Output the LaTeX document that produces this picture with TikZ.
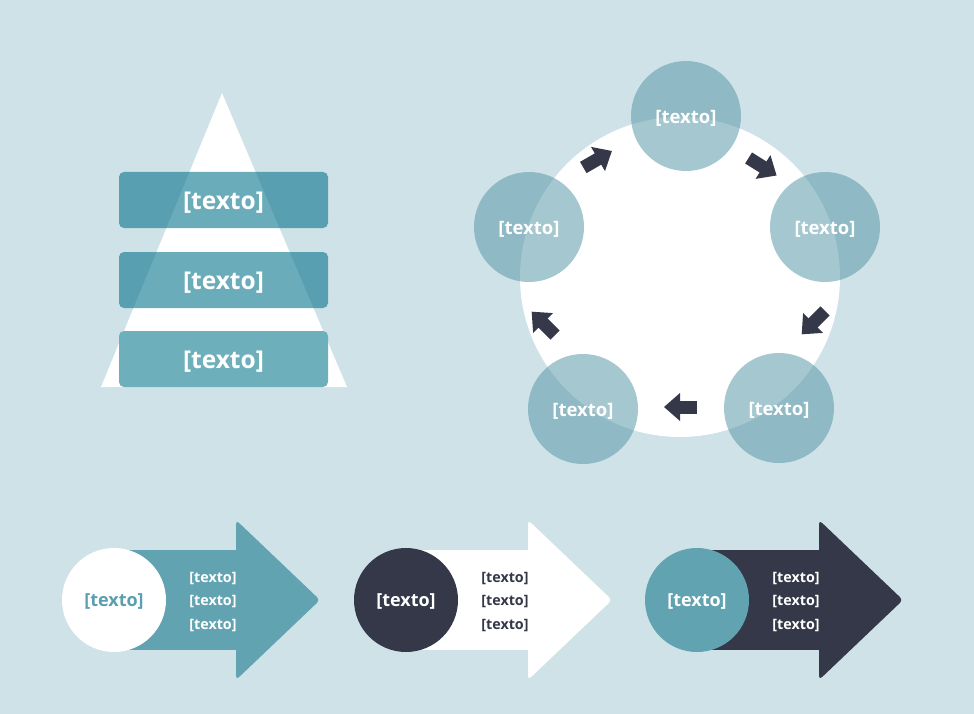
\documentclass[tikz,border=0pt]{standalone}
\usepackage{fontspec}
\setmainfont{Open Sans}
\definecolor{bg}{HTML}{CEE2E7}
\definecolor{dark}{HTML}{343848}
\definecolor{tealA}{HTML}{62A3B1}
\definecolor{tealT}{HTML}{5A9FB0}
\definecolor{boxc}{RGB}{1,112,138}
\definecolor{boxlow}{HTML}{6AADBA}
\definecolor{circc}{RGB}{92,153,169}
\begin{document}
\begin{tikzpicture}[x=1pt,y=-1pt,
  pbox/.style={text height=18.6pt, text depth=0pt, rounded corners=5pt, minimum width=209pt, minimum height=56pt, inner sep=0pt,
    fill=boxc, fill opacity=0.58, text opacity=1, text=white, font=\bfseries\fontsize{24.5}{28}\selectfont},
  cnode/.style={text height=14.6pt, text depth=0pt, circle, minimum size=110pt, inner sep=0pt, fill=circc, fill opacity=0.55, text opacity=1,
    text=white, font=\bfseries\fontsize{18.5}{22}\selectfont},
  bcirc/.style={text height=12.4pt, text depth=0pt, circle, minimum size=104pt, inner sep=0pt, font=\bfseries\fontsize{18}{21}\selectfont},
  smalltxt/.style={text height=10.8pt, text depth=0pt, inner sep=0pt, font=\bfseries\fontsize{14.3}{17}\selectfont},
  blockarr/.pic={\fill[dark] (-17,-6.5) rectangle (1,6.5); \fill[dark] (0,-14) -- (16,0) -- (0,14) -- cycle;}
]
\fill[bg] (0,0) rectangle (974,714);
\useasboundingbox (0,0) rectangle (974,714);

% pyramid
\coordinate (apex) at (222,93);
\coordinate (bl) at (101,387);
\coordinate (br) at (347,387);
\fill[white] (apex) -- (bl) -- (br) -- cycle;
\node[pbox] (p1) at (223.5,200) {[texto]};
\node[pbox] (p2) at (223.5,280) {[texto]};
\node[pbox, fill=boxlow, fill opacity=0.97] (p3) at (223.5,359) {[texto]};

% cycle
\node[circle, fill=white, minimum size=320pt, inner sep=0pt] (ring) at (680,277) {};
\node[cnode] (c1) at (686,116) {[texto]};
\node[cnode] (c2) at (825,227) {[texto]};
\node[cnode] (c3) at (779,408) {[texto]};
\node[cnode] (c4) at (583,409) {[texto]};
\node[cnode] (c5) at (529,227) {[texto]};
\pic[rotate=30] (a1) at (598,159) {blockarr};
\pic[rotate=-32] (a2) at (763,167) {blockarr};
\pic[rotate=-135] (a3) at (813,323) {blockarr};
\pic[rotate=180] (a4) at (680,407) {blockarr};
\pic[rotate=135] (a5) at (543,323) {blockarr};

% bottom arrows
\foreach \cx/\shaft/\circ/\ctext/\ttext/\n in {114/tealA/white/tealT/white/1, 406/white/dark/white/dark/2, 697/dark/tealA/white/white/3}{
  \fill[\shaft] (\cx,550) rectangle (\cx+122,650);
  \fill[\shaft, rounded corners=4pt] (\cx+122,520) -- (\cx+206,600) -- (\cx+122,680) -- cycle;
  \node[bcirc, fill=\circ, text=\ctext] (b\n) at (\cx,600) {[texto]};
  \node[smalltxt, text=\ttext] (b\n a) at (\cx+99,577) {[texto]};
  \node[smalltxt, text=\ttext] (b\n b) at (\cx+99,600) {[texto]};
  \node[smalltxt, text=\ttext] (b\n c) at (\cx+99,624.5) {[texto]};
}
\end{tikzpicture}
\end{document}
